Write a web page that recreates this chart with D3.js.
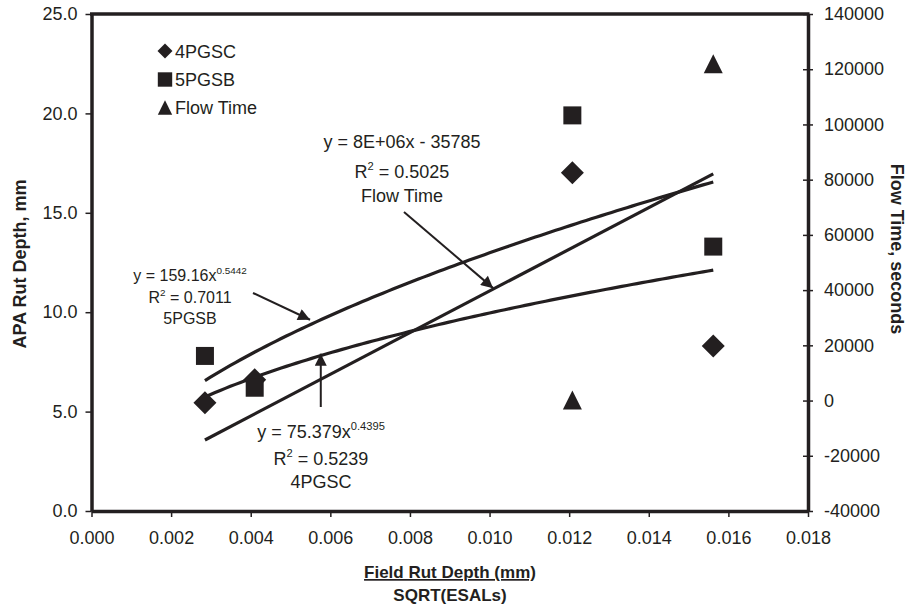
<!DOCTYPE html>
<html>
<head>
<meta charset="utf-8">
<script src="https://cdn.jsdelivr.net/npm/d3@7"></script>
<style>
  html, body { margin: 0; padding: 0; background: #fff; }
  svg { display: block; font-family: "Liberation Sans", Arial, sans-serif; }
</style>
</head>
<body>
<svg id="chart" width="917" height="608"></svg>
<script>
// Field rut depth (sqrt of ESALs) for each section
const fieldRut = [0.00285, 0.0041, 0.01208, 0.01562];
// APA rut depth, mm
const pgsc4 = [5.45, 6.6, 17.02, 8.3];
const pgsb5 = [7.8, 6.2, 19.9, 13.3];
// Flow time, seconds (secondary axis)
const flowX = [0.01208, 0.01562];
const flowTime = [180, 122000];

// Tick values
const xTicks = [0, 0.002, 0.004, 0.006, 0.008, 0.010, 0.012, 0.014, 0.016, 0.018];
const yLeftTicks = [0, 5, 10, 15, 20, 25];
const yRightTicks = [-40000, -20000, 0, 20000, 40000, 60000, 80000, 100000, 120000, 140000];

// Trend line equations
const fit4 = { a: 75.379, b: 0.4395 };          // power, 4PGSC
const fit5 = { a: 159.16, b: 0.5442 };          // power, 5PGSB
const fitFlow = { m: 7.546e6, c: -35785 };      // linear, Flow Time (shown as 8E+06)

const ink = "#231f20";
const svg = d3.select("#chart");
const L = 91.5, R = 808, T = 14, B = 511;

const x = d3.scaleLinear().domain([0, 0.018]).range([L, R]);
const yL = d3.scaleLinear().domain([0, 25]).range([B, T]);
const yR = d3.scaleLinear().domain([-40000, 140000]).range([B, T]);

// Axes
const gx = svg.append("g").attr("transform", `translate(0,${B})`)
  .call(d3.axisBottom(x).tickValues(xTicks).tickFormat(d3.format(".3f")).tickSizeInner(6).tickSizeOuter(0).tickPadding(14));
const gl = svg.append("g").attr("transform", `translate(${L},0)`)
  .call(d3.axisLeft(yL).tickValues(yLeftTicks).tickFormat(d3.format(".1f")).tickSizeInner(6).tickSizeOuter(0).tickPadding(8));
const gr = svg.append("g").attr("transform", `translate(${R},0)`)
  .call(d3.axisRight(yR).tickValues(yRightTicks).tickFormat(d => String(d)).tickSizeInner(5).tickSizeOuter(0).tickPadding(11));
gr.selectAll(".tick line").attr("x1", -5);

[gx, gl, gr].forEach(g => {
  g.selectAll(".domain").attr("stroke", ink).attr("stroke-width", 3.5);
  g.selectAll(".tick line").attr("stroke", ink).attr("stroke-width", 1.5);
  g.selectAll(".tick text").attr("fill", ink).attr("font-size", 18)
    .attr("font-family", "'Liberation Sans', Arial, sans-serif");
});
// top border
svg.append("line").attr("x1", L - 1.5).attr("x2", R + 1.5).attr("y1", T).attr("y2", T)
  .attr("stroke", ink).attr("stroke-width", 3.5);

// Trend lines
const xs = d3.range(0, 101).map(i => fieldRut[0] + (fieldRut[3] - fieldRut[0]) * i / 100);
const lineL = d3.line().x(d => x(d[0])).y(d => yL(d[1]));
const lineR = d3.line().x(d => x(d[0])).y(d => yR(d[1]));
const trend = svg.append("g").attr("fill", "none").attr("stroke", ink).attr("stroke-width", 3.2);
trend.append("path").attr("d", lineL(xs.map(v => [v, fit5.a * Math.pow(v, fit5.b)])));
trend.append("path").attr("d", lineL(xs.map(v => [v, fit4.a * Math.pow(v, fit4.b)])));
trend.append("path").attr("d", lineR([fieldRut[0], fieldRut[3]].map(v => [v, fitFlow.m * v + fitFlow.c])));

// Marker shapes
const tri = s => `M0,${-s}L${s},${s}L${-s},${s}Z`;
const dia = s => `M0,${-s}L${s},0L0,${s}L${-s},0Z`;
const sq = s => `M${-s},${-s}H${s}V${s}H${-s}Z`;

svg.append("g").selectAll("path").data(flowX.map((v, i) => [v, flowTime[i]])).join("path")
  .attr("d", tri(9.5)).attr("fill", ink)
  .attr("transform", d => `translate(${x(d[0])},${yR(d[1])})`);
svg.append("g").selectAll("path").data(fieldRut.map((v, i) => [v, pgsc4[i]])).join("path")
  .attr("d", dia(11.5)).attr("fill", ink)
  .attr("transform", d => `translate(${x(d[0])},${yL(d[1])})`);
svg.append("g").selectAll("path").data(fieldRut.map((v, i) => [v, pgsb5[i]])).join("path")
  .attr("d", sq(9)).attr("fill", ink)
  .attr("transform", d => `translate(${x(d[0])},${yL(d[1])})`);

// Legend
const legend = [
  { name: "4PGSC", shape: dia(7.5), y: 51 },
  { name: "5PGSB", shape: sq(7.2), y: 79.5 },
  { name: "Flow Time", shape: tri(7.2), y: 107.5 }
];
const lg = svg.append("g");
legend.forEach(d => {
  lg.append("path").attr("d", d.shape).attr("fill", ink).attr("transform", `translate(165,${d.y})`);
  lg.append("text").attr("x", 175).attr("y", d.y + 6.5).attr("font-size", 18).attr("fill", ink).text(d.name);
});

// Equation labels (parts with "sup" are raised exponents)
function eqLabel(cx, size, lines) {
  const g = svg.append("g").attr("fill", ink).attr("font-size", size).attr("text-anchor", "middle");
  const rise = size * 0.42;
  lines.forEach(l => {
    const t = g.append("text").attr("x", cx).attr("y", l.y);
    let raised = false;
    l.parts.forEach(p => {
      if (p.sup) {
        t.append("tspan").attr("font-size", size * 0.62).attr("dy", -rise).text(p.sup);
        raised = true;
      } else {
        const s = t.append("tspan").text(p.t);
        if (raised) { s.attr("dy", rise); raised = false; }
      }
    });
  });
}
eqLabel(402, 18, [
  { y: 148, parts: [{ t: "y = 8E+06x - 35785" }] },
  { y: 178, parts: [{ t: "R" }, { sup: "2" }, { t: " = 0.5025" }] },
  { y: 202, parts: [{ t: "Flow Time" }] }
]);
eqLabel(190, 16, [
  { y: 281, parts: [{ t: "y = 159.16x" }, { sup: "0.5442" }] },
  { y: 303, parts: [{ t: "R" }, { sup: "2" }, { t: " = 0.7011" }] },
  { y: 324, parts: [{ t: "5PGSB" }] }
]);
eqLabel(321, 18, [
  { y: 438, parts: [{ t: "y = 75.379x" }, { sup: "0.4395" }] },
  { y: 465, parts: [{ t: "R" }, { sup: "2" }, { t: " = 0.5239" }] },
  { y: 488, parts: [{ t: "4PGSC" }] }
]);

// Arrows pointing at the trend lines
svg.append("defs").append("marker").attr("id", "ah")
  .attr("viewBox", "0 0 10 10").attr("refX", 10).attr("refY", 5)
  .attr("markerWidth", 7).attr("markerHeight", 6).attr("markerUnits", "strokeWidth")
  .attr("orient", "auto")
  .append("path").attr("d", "M0,0L10,5L0,10Z").attr("fill", ink);
function arrow(x0, y0, x1, y1) {
  svg.append("line").attr("x1", x0).attr("y1", y0).attr("x2", x1).attr("y2", y1)
    .attr("stroke", ink).attr("stroke-width", 2).attr("marker-end", "url(#ah)");
}
const tip5 = 0.00549, tip4 = 0.00576, tipF = 0.01009;
arrow(253, 293, x(tip5), yL(fit5.a * Math.pow(tip5, fit5.b)) - 5);
arrow(x(tip4), 407, x(tip4), yL(fit4.a * Math.pow(tip4, fit4.b)) - 2);
arrow(404, 212, x(tipF), yR(fitFlow.m * tipF + fitFlow.c) - 1);

// Axis titles
svg.append("text").attr("transform", "translate(26,264) rotate(-90)")
  .attr("text-anchor", "middle").attr("font-size", 18).attr("font-weight", "bold").attr("fill", ink)
  .text("APA Rut Depth, mm");
svg.append("text").attr("transform", "translate(891,249) rotate(90)")
  .attr("text-anchor", "middle").attr("font-size", 18).attr("font-weight", "bold").attr("fill", ink)
  .text("Flow Time, seconds");
svg.append("text").attr("x", 450).attr("y", 578)
  .attr("text-anchor", "middle").attr("font-size", 17).attr("font-weight", "bold").attr("fill", ink)
  .attr("text-decoration", "underline").text("Field Rut Depth (mm)");
svg.append("text").attr("x", 450).attr("y", 601)
  .attr("text-anchor", "middle").attr("font-size", 17).attr("font-weight", "bold").attr("fill", ink)
  .text("SQRT(ESALs)");
</script>
</body>
</html>
